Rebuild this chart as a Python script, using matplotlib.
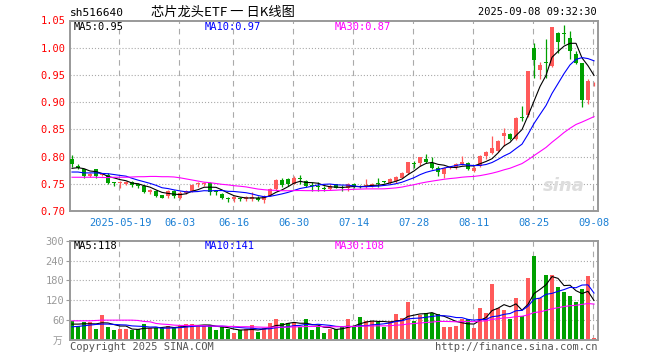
import numpy as np
import pandas as pd
import matplotlib
matplotlib.use("Agg")
import matplotlib.pyplot as plt

plt.rcParams["lines.scale_dashes"] = False

# daily candles, 88 trading days (2025-05-07 .. 2025-09-08)
opens = [0.7963, 0.7827, 0.7765, 0.7642, 0.7765, 0.7654, 0.7670, 0.7525, 0.7515, 0.7500,
         0.7537, 0.7488, 0.7457, 0.7346, 0.7364, 0.7290, 0.7280, 0.7364, 0.7240, 0.7330,
         0.7364, 0.7500, 0.7494, 0.7518, 0.7352, 0.7320, 0.7229, 0.7222, 0.7229, 0.7222,
         0.7222, 0.7241, 0.7198, 0.7284, 0.7408, 0.7562, 0.7580, 0.7500, 0.7611, 0.7555,
         0.7463, 0.7457, 0.7420, 0.7408, 0.7488, 0.7444, 0.7426, 0.7500, 0.7444, 0.7444,
         0.7457, 0.7506, 0.7537, 0.7518, 0.7550, 0.7611, 0.7704, 0.7876, 0.7889, 0.7950,
         0.7889, 0.7784, 0.7673, 0.7784, 0.7809, 0.7858, 0.7889, 0.7730, 0.7822, 0.8006,
         0.8067, 0.8098, 0.8374, 0.8423, 0.8325, 0.8724, 0.8755, 1.0000, 0.9583, 0.9730,
         0.9663, 1.0276, 1.0264, 1.0180, 0.9877, 0.9712, 0.9037, 0.9362]
closes = [0.7858, 0.7796, 0.7640, 0.7685, 0.7640, 0.7685, 0.7520, 0.7515, 0.7525, 0.7537,
          0.7469, 0.7457, 0.7346, 0.7383, 0.7284, 0.7240, 0.7364, 0.7280, 0.7334, 0.7364,
          0.7475, 0.7506, 0.7500, 0.7346, 0.7346, 0.7240, 0.7222, 0.7253, 0.7222, 0.7253,
          0.7253, 0.7210, 0.7284, 0.7408, 0.7562, 0.7475, 0.7500, 0.7611, 0.7580, 0.7457,
          0.7457, 0.7445, 0.7408, 0.7457, 0.7426, 0.7426, 0.7488, 0.7457, 0.7438, 0.7470,
          0.7500, 0.7500, 0.7531, 0.7580, 0.7624, 0.7704, 0.7901, 0.7870, 0.7994, 0.7901,
          0.7796, 0.7722, 0.7796, 0.7809, 0.7870, 0.7907, 0.7765, 0.7791, 0.8006, 0.8080,
          0.8160, 0.8294, 0.8435, 0.8331, 0.8706, 0.8712, 0.9570, 0.9773, 0.9675, 0.9724,
          1.0380, 1.0104, 1.0258, 0.9939, 0.9724, 0.9037, 0.9387, 0.9368]
highs = [0.8025, 0.7860, 0.7780, 0.7700, 0.7780, 0.7700, 0.7690, 0.7537, 0.7543, 0.7556,
         0.7550, 0.7510, 0.7470, 0.7410, 0.7380, 0.7300, 0.7395, 0.7380, 0.7364, 0.7383,
         0.7490, 0.7537, 0.7537, 0.7530, 0.7383, 0.7330, 0.7259, 0.7270, 0.7259, 0.7270,
         0.7346, 0.7280, 0.7300, 0.7420, 0.7580, 0.7610, 0.7610, 0.7640, 0.7660, 0.7575,
         0.7537, 0.7537, 0.7457, 0.7500, 0.7500, 0.7470, 0.7510, 0.7506, 0.7470, 0.7580,
         0.7518, 0.7611, 0.7550, 0.7599, 0.7642, 0.7722, 0.7907, 0.7920, 0.8000, 0.8043,
         0.7994, 0.7827, 0.7809, 0.7827, 0.7889, 0.8012, 0.7901, 0.7822, 0.8037, 0.8098,
         0.8387, 0.8313, 0.8528, 0.8435, 0.8724, 0.8927, 0.9570, 1.0080, 0.9742, 1.0153,
         1.0380, 1.0288, 1.0411, 1.0307, 0.9939, 0.9724, 0.9429, 0.9368]
lows = [0.7800, 0.7770, 0.7610, 0.7625, 0.7600, 0.7640, 0.7500, 0.7457, 0.7426, 0.7475,
        0.7440, 0.7414, 0.7330, 0.7320, 0.7260, 0.7230, 0.7235, 0.7235, 0.7222, 0.7315,
        0.7346, 0.7445, 0.7457, 0.7303, 0.7303, 0.7222, 0.7161, 0.7167, 0.7179, 0.7190,
        0.7190, 0.7190, 0.7150, 0.7272, 0.7395, 0.7445, 0.7457, 0.7488, 0.7500, 0.7445,
        0.7370, 0.7370, 0.7370, 0.7390, 0.7420, 0.7370, 0.7370, 0.7426, 0.7420, 0.7430,
        0.7438, 0.7438, 0.7506, 0.7500, 0.7518, 0.7599, 0.7673, 0.7796, 0.7833, 0.7876,
        0.7765, 0.7642, 0.7611, 0.7765, 0.7765, 0.7840, 0.7753, 0.7711, 0.7803, 0.7957,
        0.8055, 0.8080, 0.8190, 0.8313, 0.8313, 0.8650, 0.8730, 0.9448, 0.9429, 0.9448,
        0.9650, 0.9908, 1.0061, 0.9785, 0.9693, 0.8914, 0.8957, 0.9294]
volumes = [58, 42, 55, 55, 33, 75, 39, 31, 33, 33,
           30, 33, 47, 37, 37, 35, 43, 36, 45, 48,
           48, 43, 43, 44, 30, 38, 32, 21, 30, 32,
           44, 24, 37, 51, 63, 50, 50, 52, 38, 63,
           31, 40, 21, 34, 33, 41, 62, 40, 69, 58,
           58, 55, 40, 58, 78, 66, 115, 58, 77, 82,
           82, 79, 39, 39, 42, 62, 62, 36, 96, 82,
           168, 98, 90, 64, 126, 72, 186, 253, 127, 196,
           196, 159, 144, 132, 114, 153, 192, 6]

# moving-average values at the left edge (window reaches before the chart)
ma5_head = [0.7784, 0.7796, 0.7778, 0.7735]
ma10_head = [0.7716, 0.7716, 0.7700, 0.7700, 0.7700, 0.7690, 0.7685, 0.7670, 0.7654]
ma30_head = [0.762, 0.762, 0.762, 0.762, 0.762, 0.7615, 0.7615, 0.762, 0.762, 0.762,
             0.7625, 0.763, 0.763, 0.7635, 0.7635, 0.763, 0.763, 0.7625, 0.761, 0.759,
             0.757, 0.755, 0.753, 0.752, 0.7505, 0.749, 0.748, 0.7465, 0.7455]
vma5_head = [48, 48, 49, 49]
vma10_head = [40, 41, 43, 45, 47, 48, 48, 47, 46]
vma30_head = [58, 58, 58, 58, 59, 60, 60, 60, 60, 60, 60, 59, 56, 55, 50, 48, 47, 45, 44,
              44, 44, 43, 43, 42, 42, 42, 41, 41, 40]

tick_idx = [8, 18, 27, 37, 47, 57, 67, 77, 87]
tick_labels = ["2025-05-19", "06-03", "06-16", "06-30", "07-14", "07-28", "08-11", "08-25", "09-08"]
price_ticks = [0.70, 0.75, 0.80, 0.85, 0.90, 0.95, 1.00, 1.05]
vol_ticks = [60, 120, 180, 240, 300]

RED = "#ff5a5a"
GREEN = "#00a000"
GRID = "#aaaaaa"
EDGE = "#999999"
MONO = "DejaVu Sans Mono"


def with_head(values, n, head):
    ma = pd.Series(values).rolling(n).mean().to_numpy()
    ma[:len(head)] = head
    return ma


x = np.arange(len(closes))
o = np.array(opens)
c = np.array(closes)
up = c >= o
colors = [RED if u else GREEN for u in up]

fig = plt.figure(figsize=(6.6, 3.6), dpi=100)
W, H = 660.0, 360.0
ax = fig.add_axes([70 / W, 1 - 211 / H, 528 / W, 190.5 / H])
axv = fig.add_axes([70 / W, 1 - 340 / H, 528 / W, 99.3 / H])

for a in (ax, axv):
    a.set_xlim(-1 / 3, 87 + 2 / 3)
    for s in a.spines.values():
        s.set_color(EDGE)
        s.set_linewidth(1.4)
    for t in tick_idx:
        a.axvline(t - 0.25, color=GRID, lw=0.8, ls=(0, (4, 3.5)), zorder=0)

# price panel
ax.set_ylim(0.70, 1.05)
for p in price_ticks[1:-1]:
    ax.axhline(p, color=GRID, lw=0.8, ls=(0, (0.8, 1.4)), zorder=0)
ax.vlines(x, lows, highs, colors=colors, lw=0.9, zorder=2)
body = np.maximum(np.abs(c - o), 0.0013)
ax.bar(x, body, bottom=np.minimum(o, c), width=0.83, color=colors, lw=0, zorder=3)
ax.plot(x, with_head(closes, 5, ma5_head), color="black", lw=0.8, zorder=4)
ax.plot(x, with_head(closes, 10, ma10_head), color="#0000ff", lw=0.8, zorder=4)
ax.plot(x, with_head(closes, 30, ma30_head), color="#ff00ff", lw=0.8, zorder=4)
ax.set_yticks(price_ticks)
ax.set_yticklabels(["%.2f" % p for p in price_ticks], color="red", family=MONO, fontsize=7.5)
ax.set_xticks(tick_idx)
ax.set_xticklabels(tick_labels, color="#1a7fd4", family=MONO, fontsize=7.5)
ax.tick_params(axis="both", length=0)
ax.tick_params(axis="y", pad=3)
ax.tick_params(axis="x", pad=5)
ax.text(0.935, 0.13, "sina", transform=ax.transAxes, fontsize=13, style="italic",
        fontweight="bold", color="#dddddd", ha="center", va="center", zorder=1)

# volume panel
axv.set_ylim(0, 300)
for v in vol_ticks[:-1]:
    axv.axhline(v, color=GRID, lw=0.8, ls=(0, (0.8, 1.4)), zorder=0)
axv.bar(x, volumes, width=0.83, color=colors, lw=0, zorder=2)
axv.plot(x, with_head(volumes, 5, vma5_head), color="black", lw=0.8, zorder=3)
axv.plot(x, with_head(volumes, 10, vma10_head), color="#0000ff", lw=0.8, zorder=3)
axv.plot(x, with_head(volumes, 30, vma30_head), color="#ff00ff", lw=0.8, zorder=3)
axv.set_yticks(vol_ticks)
axv.set_yticklabels([str(v) for v in vol_ticks], color="#999999", family=MONO, fontsize=7.5)
axv.set_xticks([])
axv.tick_params(axis="y", length=3, color=EDGE, pad=1)


def ftext(px, py, s, **kw):
    fig.text(px / W, 1 - py / H, s, va="center", **kw)


ftext(70, 13, "sh516640", family=MONO, fontsize=8, color="black")
ftext(223, 12, "芯片龙头ETF 一 日K线图", family=["Noto Sans CJK SC", "DejaVu Sans"],
      fontsize=9.5, color="black", ha="center")
ftext(597, 12, "2025-09-08 09:32:30", family=MONO, fontsize=7.5, color="black", ha="right")
ftext(74, 27, "MA5:0.95", family=MONO, fontsize=7.5, color="black")
ftext(205, 27, "MA10:0.97", family=MONO, fontsize=7.5, color="#0000ff")
ftext(335, 27, "MA30:0.87", family=MONO, fontsize=7.5, color="#ff00ff")
ftext(74, 246, "MA5:118", family=MONO, fontsize=7.5, color="black")
ftext(205, 246, "MA10:141", family=MONO, fontsize=7.5, color="#0000ff")
ftext(335, 246, "MA30:108", family=MONO, fontsize=7.5, color="#ff00ff")
ftext(62, 341, "万", family=["Noto Sans CJK SC", "DejaVu Sans"], fontsize=7,
      color="#999999", ha="right")
ftext(70, 347, "Copyright 2025 SINA.COM", family=MONO, fontsize=7.5, color="#555555")
ftext(598, 347, "http://finance.sina.com.cn", family=MONO, fontsize=7.5, color="#555555",
      ha="right")

fig.savefig("out.png", dpi=100)
